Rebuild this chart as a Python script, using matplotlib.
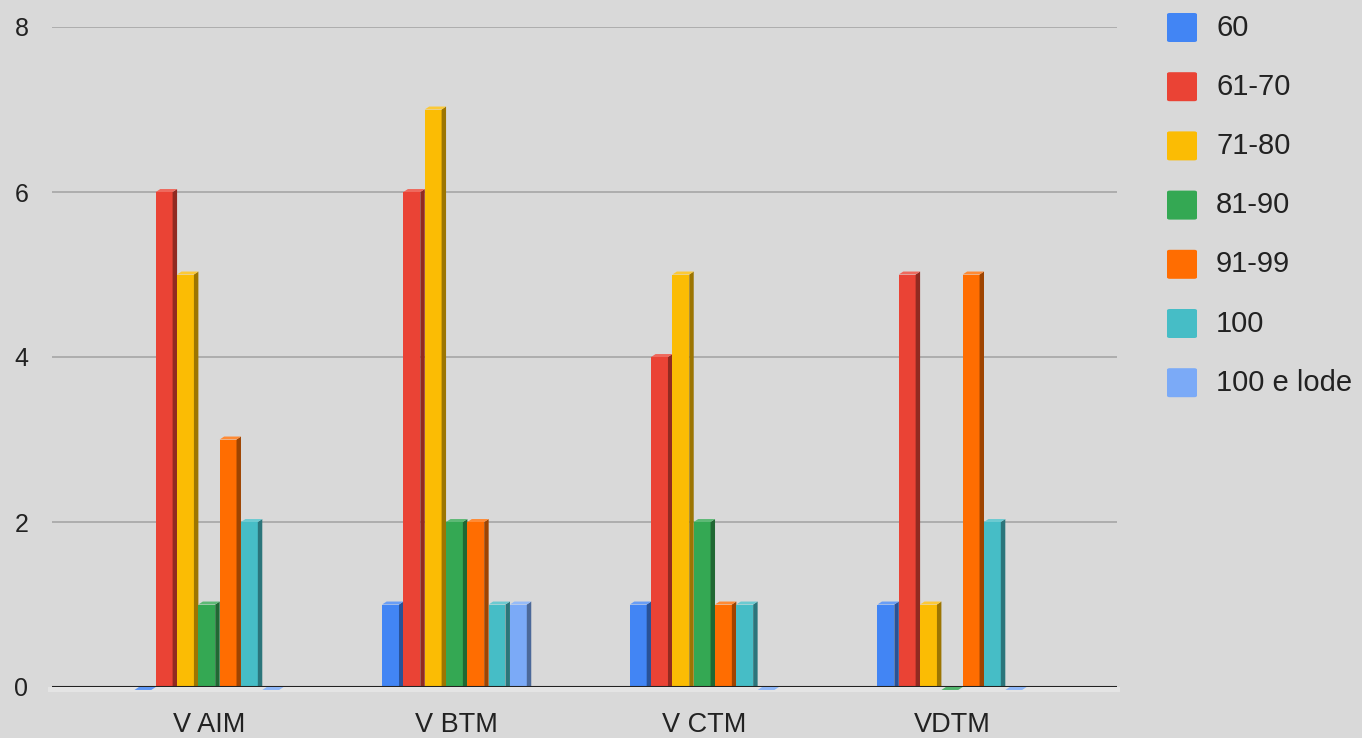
import matplotlib
matplotlib.use("Agg")
import matplotlib.pyplot as plt
from matplotlib.patches import Polygon, FancyBboxPatch, Rectangle
from matplotlib.colors import to_rgb
import numpy as np

plt.rcParams['font.family'] = ['Liberation Sans', 'DejaVu Sans']

groups = ['V AIM', 'V BTM', 'V CTM', 'VDTM']
series = ['60', '61-70', '71-80', '81-90', '91-99', '100', '100 e lode']
values = [
    [0, 1, 1, 1],   # 60
    [6, 6, 4, 5],   # 61-70
    [5, 7, 5, 1],   # 71-80
    [1, 2, 2, 0],   # 81-90
    [3, 2, 1, 5],   # 91-99
    [2, 1, 1, 2],   # 100
    [0, 1, 0, 0],   # 100 e lode
]
colors = ['#4285f4', '#ea4335', '#fbbc04', '#34a853', '#ff6d01', '#46bdc6', '#7baaf7']


def shade(c, f):
    r, g, b = to_rgb(c)
    if f < 1:
        return (r * f, g * f, b * f)
    return (r + (1 - r) * (f - 1), g + (1 - g) * (f - 1), b + (1 - b) * (f - 1))


W, H = 1362, 738
fig = plt.figure(figsize=(W / 100, H / 100), dpi=100)
fig.patch.set_facecolor('#d9d9d9')
ax = fig.add_axes([52 / W, (H - 687) / H, (1117 - 52) / W, 660 / H])
ax.set_facecolor('#d9d9d9')

pitch = 0.086
w = 0.068
d = 0.018
dy = 0.036
x = np.arange(len(groups))

# light floor strip under the baseline
ax.add_patch(Rectangle((-0.65, -0.06), 4.33, 0.06, facecolor='#e4e4e4',
                       edgecolor='none', zorder=2, clip_on=False))

for i, (name, vals, c) in enumerate(zip(series, values, colors)):
    x0 = x + (i - 3) * pitch - (w + d) / 2
    ax.bar(x0, vals, width=w, align='edge', color=c, zorder=3, linewidth=0)
    for xi, v in zip(x0, vals):
        if v > 0:
            side = [(xi + w, 0), (xi + w + d, 0), (xi + w + d, v + dy), (xi + w, v)]
            ax.add_patch(Polygon(side, closed=True, facecolor=shade(c, 0.62),
                                 edgecolor='none', zorder=3, clip_on=False))
            top = [(xi, v), (xi + d, v + dy), (xi + w + d, v + dy), (xi + w, v)]
            ax.add_patch(Polygon(top, closed=True, facecolor=shade(c, 1.2),
                                 edgecolor='none', zorder=6, clip_on=False))
        else:
            # flat face for an empty bar, lying on the floor
            flat = [(xi, -dy), (xi + d, 0), (xi + w + d, 0), (xi + w, -dy)]
            ax.add_patch(Polygon(flat, closed=True, facecolor=shade(c, 1.15),
                                 edgecolor='none', zorder=6, clip_on=False))

ax.set_xlim(-0.634, 3.666)
ax.set_ylim(0, 8)
ax.set_yticks([0, 2, 4, 6, 8])
ax.set_xticks(x)
ax.set_xticklabels(groups)
ax.grid(axis='y', color='#a6a6a6', linewidth=1.2, zorder=1)
ax.axhline(0, color='#222222', linewidth=1.5, zorder=5)
for s in ax.spines.values():
    s.set_visible(False)
ax.tick_params(axis='y', length=0, pad=17, labelsize=18, labelcolor='#222222')
ax.tick_params(axis='x', length=0, pad=18, labelsize=19.5, labelcolor='#222222')

# legend
for k, (name, c) in enumerate(zip(series, colors)):
    yc = 27.5 + k * 59.2
    fig.patches.append(FancyBboxPatch((1167 / W, (H - yc - 14.5) / H), 30 / W, 29 / H,
                                      boxstyle='round,pad=0,rounding_size=0.002',
                                      transform=fig.transFigure, facecolor=c,
                                      edgecolor='none'))
    fig.text(1216 / W, (H - yc) / H, name, fontsize=21, color='#222222',
             va='center', ha='left')

fig.savefig('out.png', dpi=100, facecolor=fig.get_facecolor())
